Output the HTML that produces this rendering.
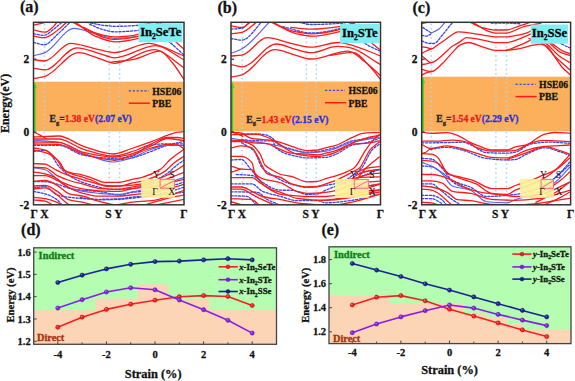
<!DOCTYPE html><html><head><meta charset="utf-8"><style>html,body{margin:0;padding:0;background:#fff;width:575px;height:381px;overflow:hidden}svg{display:block}</style></head><body>
<svg width="575" height="381" viewBox="0 0 575 381">
<rect width="575" height="381" fill="#fff"/>
<g font-family="Liberation Serif" font-weight="bold" font-size="16" fill="#111" stroke="#111" stroke-width="0.28">
<text x="20" y="11.8">(a)</text>
<text x="217.5" y="12.6">(b)</text>
<text x="412.5" y="13.3">(c)</text>
<text x="21.1" y="234.7">(d)</text>
<text x="321.4" y="235.1">(e)</text>
</g>
<text transform="translate(9.3 103.4) rotate(-90)" font-family="Liberation Serif" font-weight="bold" font-size="12" fill="#111" text-anchor="middle" stroke="#111" stroke-width="0.28">Energy(eV)</text>
<clipPath id="clip1"><rect x="33.5" y="22.3" width="150.5" height="182.5"/></clipPath>
<rect x="33.5" y="81.7" width="150.5" height="49.5" fill="#fcb05b"/>
<line x1="44.5" y1="23.8" x2="44.5" y2="204.8" stroke="#a8d2f4" stroke-width="1.5" stroke-dasharray="1.5 3"/>
<line x1="109.3" y1="23.8" x2="109.3" y2="204.8" stroke="#a8d2f4" stroke-width="1.5" stroke-dasharray="1.5 3"/>
<line x1="119.6" y1="23.8" x2="119.6" y2="204.8" stroke="#a8d2f4" stroke-width="1.5" stroke-dasharray="1.5 3"/>
<g clip-path="url(#clip1)"><g transform="translate(33.50 22.30) scale(1.0033 1)">
<g fill="none" stroke-linecap="round">
<path d="M0.0 20.1C3.5 20.9 7.0 22.5 10.5 22.5C15.0 22.5 19.5 15.9 24.0 12.0C28.5 8.1 32.9 3.3 37.4 -1.0" stroke="#3b45e6" stroke-width="1.3" stroke-dasharray="2.2 1.6"/>
<path d="M0.0 11.4C3.5 11.9 7.0 13.0 10.5 13.0C13.7 13.0 16.8 9.3 20.0 7.0C23.2 4.7 26.3 1.7 29.5 -1.0" stroke="#3b45e6" stroke-width="1.3" stroke-dasharray="2.2 1.6"/>
<path d="M53.0 0.0C58.7 1.0 64.3 2.3 70.0 3.0C73.7 3.4 77.3 4.0 81.0 4.0C89.0 4.0 97.0 3.6 105.0 3.0C110.0 2.6 115.0 1.0 120.0 0.0" stroke="#3b45e6" stroke-width="1.3" stroke-dasharray="2.2 1.6"/>
<path d="M56.0 2.0C60.7 3.8 65.3 6.4 70.0 7.5C73.7 8.4 77.3 9.5 81.0 9.5C89.0 9.5 97.0 8.9 105.0 8.0C111.7 7.3 118.3 3.3 125.0 1.0" stroke="#3b45e6" stroke-width="1.3" stroke-dasharray="2.2 1.6"/>
<path d="M118.0 8.0C124.0 12.1 130.0 15.5 136.0 20.2C140.7 23.8 145.3 28.6 150.0 32.8" stroke="#3b45e6" stroke-width="1.3" stroke-dasharray="2.2 1.6"/>
<path d="M0.0 123.0C8.3 123.0 16.7 123.0 25.0 123.0C33.3 123.0 41.7 131.6 50.0 133.0C60.0 134.6 70.0 136.0 80.0 136.0C85.5 136.0 91.0 135.4 96.5 134.6C103.5 133.6 110.5 123.3 117.5 122.5C122.8 121.9 128.0 121.5 133.3 121.5C138.9 121.5 144.4 121.5 150.0 121.5" stroke="#3b45e6" stroke-width="1.3" stroke-dasharray="2.2 1.6"/>
<path d="M80.0 138.0C85.5 137.3 91.0 137.0 96.5 136.0C103.5 134.8 110.5 131.5 117.5 129.0C122.8 127.1 128.0 124.6 133.3 123.0C138.9 121.4 144.4 120.3 150.0 119.0" stroke="#3b45e6" stroke-width="1.3" stroke-dasharray="2.2 1.6"/>
<path d="M0.0 129.0C4.0 128.7 8.0 128.0 12.0 128.0C17.0 128.0 22.0 141.3 27.0 146.0C31.3 150.0 35.7 153.7 40.0 156.0C45.0 158.7 50.0 160.6 55.0 162.0C63.3 164.3 71.7 167.0 80.0 167.0C86.7 167.0 93.3 166.6 100.0 166.0C105.0 165.5 110.0 163.0 115.0 161.0C120.7 158.7 126.3 155.7 132.0 152.0C136.0 149.4 140.0 144.9 144.0 142.0C146.0 140.5 148.0 139.3 150.0 138.0" stroke="#3b45e6" stroke-width="1.3" stroke-dasharray="2.2 1.6"/>
<path d="M0.0 159.4C3.9 159.4 7.7 159.4 11.6 159.4C15.6 159.4 19.7 160.9 23.7 161.9C27.7 162.9 31.7 165.2 35.7 166.0C40.3 166.9 44.9 167.6 49.5 168.0C54.5 168.5 59.6 168.6 64.6 169.1C71.7 169.8 78.7 172.7 85.8 172.7C89.4 172.7 92.9 170.8 96.5 170.3C104.3 169.2 112.2 169.1 120.0 168.0C130.0 166.6 140.0 162.7 150.0 160.0" stroke="#3b45e6" stroke-width="1.3" stroke-dasharray="2.2 1.6"/>
<path d="M0.0 165.5C3.9 165.1 7.7 164.3 11.6 164.3C15.6 164.3 19.7 171.5 23.7 172.7C27.7 173.9 31.7 174.6 35.7 175.0C45.3 176.0 55.0 177.0 64.6 177.0C71.7 177.0 78.7 176.8 85.8 176.5C89.4 176.3 92.9 175.4 96.5 175.0C104.3 174.1 112.2 174.0 120.0 173.0C130.0 171.7 140.0 167.7 150.0 165.0" stroke="#3b45e6" stroke-width="1.3" stroke-dasharray="2.2 1.6"/>
<path d="M0.0 169.1C3.9 169.9 7.7 170.4 11.6 171.5C15.6 172.7 19.7 174.7 23.7 177.6C25.7 179.0 27.7 181.9 29.7 184.0" stroke="#3b45e6" stroke-width="1.3" stroke-dasharray="2.2 1.6"/>
<path d="M46.5 175.0C52.5 175.8 58.6 177.5 64.6 177.5C71.7 177.5 78.7 177.3 85.8 177.0C89.4 176.9 92.9 176.4 96.5 176.0C114.3 174.2 132.2 172.0 150.0 170.0" stroke="#3b45e6" stroke-width="1.3" stroke-dasharray="2.2 1.6"/>
<path d="M0.0 33.5C3.8 32.4 7.7 31.8 11.5 30.3C21.2 26.5 30.8 6.0 40.5 6.0C47.0 6.0 53.5 9.4 60.0 11.0C67.0 12.7 74.0 16.0 81.0 16.0C89.0 16.0 97.0 15.2 105.0 14.0C113.3 12.8 121.7 4.0 130.0 -1.0" stroke="#5a63e8" stroke-width="1.15"/>
<path d="M0.0 118.0C8.3 118.7 16.7 118.9 25.0 120.0C33.3 121.1 41.7 128.1 50.0 131.0C60.0 134.5 70.0 139.7 80.0 139.7C85.5 139.7 91.0 137.6 96.5 136.0C103.5 134.0 110.5 129.2 117.5 127.0C122.8 125.3 128.0 123.0 133.3 123.0C138.9 123.0 144.4 123.0 150.0 123.0" stroke="#5a63e8" stroke-width="1.15"/>
<path d="M0.0 145.5C3.9 146.1 7.7 146.4 11.6 147.4C15.6 148.5 19.7 154.0 23.7 157.0C27.7 160.0 31.7 164.0 35.7 165.5C40.3 167.3 44.9 168.3 49.5 169.1C54.5 170.0 59.6 170.6 64.6 171.0C71.7 171.5 78.7 172.0 85.8 172.0C89.4 172.0 92.9 170.7 96.5 170.0C104.3 168.5 112.2 167.0 120.0 165.0C130.0 162.4 140.0 158.3 150.0 155.0" stroke="#5a63e8" stroke-width="1.15"/>
<path d="M0.0 37.4C3.7 37.8 7.3 38.7 11.0 38.7C19.7 38.7 28.3 21.0 37.0 21.0C44.7 21.0 52.3 24.4 60.0 26.0C67.0 27.5 74.0 30.3 81.0 30.3C92.3 30.3 103.7 21.0 115.0 21.0C126.7 21.0 138.3 29.4 150.0 33.6" stroke="#fc1a1a" stroke-width="1.3"/>
<path d="M0.0 46.0C3.8 46.5 7.7 47.6 11.5 47.6C22.0 47.6 32.5 25.6 43.0 25.6C50.3 25.6 57.7 29.1 65.0 31.0C70.3 32.4 75.7 35.5 81.0 35.5C94.6 35.5 108.1 23.3 121.7 23.3C131.1 23.3 140.6 32.8 150.0 37.5" stroke="#fc1a1a" stroke-width="1.3"/>
<path d="M0.0 56.3C3.8 55.5 7.7 55.1 11.5 54.0C22.7 50.8 33.8 30.3 45.0 30.3C51.7 30.3 58.3 34.0 65.0 36.0C70.3 37.6 75.7 41.0 81.0 41.0C94.0 41.0 107.0 27.3 120.0 27.3C130.0 27.3 140.0 39.4 150.0 45.4" stroke="#fc1a1a" stroke-width="1.3"/>
<path d="M76.0 40.0C84.0 39.0 92.0 38.4 100.0 37.0C108.7 35.5 117.3 28.8 126.0 28.8C130.0 28.8 134.0 35.5 138.0 40.0C142.0 44.5 146.0 51.3 150.0 57.0" stroke="#fc1a1a" stroke-width="1.3"/>
<path d="M0.0 13.8C3.5 14.3 7.0 15.4 10.5 15.4C15.0 15.4 19.5 11.1 24.0 8.0C27.3 5.7 30.7 2.0 34.0 -1.0" stroke="#fc1a1a" stroke-width="1.3"/>
<path d="M0.0 7.5C3.8 8.3 7.7 9.9 11.5 9.9C13.7 9.9 15.8 7.7 18.0 6.0C20.3 4.2 22.7 0.7 25.0 -2.0" stroke="#fc1a1a" stroke-width="1.3"/>
<path d="M0.0 2.8C2.7 2.2 5.3 1.7 8.0 1.0C10.3 0.4 12.7 -0.3 15.0 -1.0" stroke="#fc1a1a" stroke-width="1.3"/>
<path d="M37.4 -1.0C44.9 2.7 52.5 7.8 60.0 10.0C67.0 12.1 74.0 14.5 81.0 14.5C87.3 14.5 93.7 13.8 100.0 13.0C108.3 11.9 116.7 5.7 125.0 2.0" stroke="#fc1a1a" stroke-width="1.3"/>
<path d="M42.0 0.0C48.7 4.7 55.3 11.3 62.0 14.0C68.3 16.6 74.7 19.5 81.0 19.5C89.0 19.5 97.0 17.9 105.0 16.0C111.7 14.4 118.3 8.7 125.0 5.0" stroke="#fc1a1a" stroke-width="1.3"/>
<path d="M50.0 5.0C56.7 8.3 63.3 13.3 70.0 15.0C73.7 15.9 77.3 17.0 81.0 17.0C89.0 17.0 97.0 15.6 105.0 14.0C113.3 12.4 121.7 6.0 130.0 2.0" stroke="#fc1a1a" stroke-width="1.3"/>
<path d="M128.0 8.0C132.0 11.3 136.0 14.5 140.0 18.0C143.3 20.9 146.7 24.0 150.0 27.0" stroke="#fc1a1a" stroke-width="1.3"/>
<path d="M0.0 109.7C2.0 110.6 4.0 111.5 6.0 112.5C8.3 113.7 10.7 115.2 13.0 116.5" stroke="#fc1a1a" stroke-width="1.3"/>
<path d="M0.0 114.7C8.3 114.4 16.7 113.7 25.0 113.7C33.3 113.7 41.7 121.3 50.0 124.0C60.0 127.2 70.0 131.7 80.0 131.7C85.5 131.7 91.0 128.5 96.5 126.7C103.5 124.4 110.5 122.0 117.5 119.4C122.8 117.4 128.0 114.9 133.3 113.1C136.8 111.9 140.3 110.3 143.8 109.9C145.9 109.6 147.9 109.6 150.0 109.4" stroke="#fc1a1a" stroke-width="1.3"/>
<path d="M0.0 116.7C8.3 116.7 16.7 116.7 25.0 116.7C33.3 116.7 41.7 124.6 50.0 127.0C60.0 129.9 70.0 133.7 80.0 133.7C85.5 133.7 91.0 131.5 96.5 129.9C103.5 127.9 110.5 124.3 117.5 121.5C122.8 119.4 128.0 115.2 133.3 115.2C136.8 115.2 140.3 115.2 143.8 115.2C145.9 115.2 147.9 115.9 150.0 116.2" stroke="#fc1a1a" stroke-width="1.3"/>
<path d="M0.0 119.7C8.3 119.8 16.7 119.8 25.0 120.0C33.3 120.2 41.7 128.1 50.0 130.0C60.0 132.3 70.0 134.7 80.0 134.7C85.5 134.7 91.0 133.3 96.5 132.0C103.5 130.4 110.5 126.6 117.5 123.6C122.8 121.3 128.0 116.2 133.3 116.2C138.9 116.2 144.4 117.6 150.0 118.3" stroke="#fc1a1a" stroke-width="1.3"/>
<path d="M0.0 121.7C8.3 121.8 16.7 121.8 25.0 122.0C33.3 122.2 41.7 129.8 50.0 132.0C60.0 134.6 70.0 137.7 80.0 137.7C85.5 137.7 91.0 135.1 96.5 133.5C103.5 131.4 110.5 127.7 117.5 125.7C122.8 124.2 128.0 122.0 133.3 122.0C136.8 122.0 140.3 122.2 143.8 122.5C145.9 122.7 147.9 125.3 150.0 126.7" stroke="#fc1a1a" stroke-width="1.3"/>
<path d="M0.0 125.7C4.0 126.5 8.0 126.8 12.0 128.0C15.9 129.2 19.8 133.3 23.7 137.7C25.7 140.0 27.7 146.1 29.7 147.4C32.9 149.5 36.2 150.4 39.4 151.0C41.8 151.5 44.1 151.6 46.5 152.0C50.5 152.8 54.6 154.5 58.6 155.8C62.6 157.1 66.7 160.1 70.7 160.1C75.7 160.1 80.8 160.1 85.8 160.1C89.4 160.1 92.9 158.4 96.5 157.6C100.5 156.7 104.4 156.1 108.4 155.0C114.4 153.3 120.3 150.9 126.3 147.1C129.8 144.9 133.3 139.7 136.8 136.7C141.2 133.0 145.6 130.2 150.0 127.0" stroke="#fc1a1a" stroke-width="1.3"/>
<path d="M0.0 127.7C4.7 128.8 9.3 129.3 14.0 131.0C18.0 132.5 22.0 135.8 26.0 140.0C28.0 142.1 30.0 147.7 32.0 149.0C35.3 151.2 38.7 152.1 42.0 153.0C43.5 153.4 45.0 153.6 46.5 154.0C50.5 155.1 54.6 156.7 58.6 158.2C62.6 159.7 66.7 162.8 70.7 163.1C75.7 163.5 80.8 163.7 85.8 163.7C89.4 163.7 92.9 162.0 96.5 161.2C101.5 160.1 106.4 159.4 111.4 158.0C117.4 156.3 123.3 153.7 129.3 150.1C133.3 147.7 137.3 142.7 141.3 139.7C144.2 137.6 147.1 135.9 150.0 134.0" stroke="#fc1a1a" stroke-width="1.3"/>
<path d="M0.0 141.3C3.9 141.5 7.7 141.5 11.6 141.9C14.4 142.2 17.2 144.8 20.0 146.2C23.2 147.8 26.5 149.7 29.7 151.0C35.3 153.2 40.9 154.8 46.5 156.5C50.5 157.7 54.6 158.9 58.6 160.0C64.1 161.5 69.5 164.0 75.0 164.0C82.2 164.0 89.3 163.5 96.5 163.0C102.7 162.5 108.8 161.4 115.0 160.0C121.7 158.5 128.3 155.2 135.0 152.0C140.0 149.6 145.0 146.0 150.0 143.0" stroke="#fc1a1a" stroke-width="1.3"/>
<path d="M0.0 145.0C3.9 145.2 7.7 145.2 11.6 145.5C15.6 145.8 19.7 151.4 23.7 153.4C27.7 155.4 31.7 156.9 35.7 158.2C40.3 159.7 44.9 160.7 49.5 161.9C54.5 163.3 59.6 165.6 64.6 166.0C71.7 166.6 78.7 167.0 85.8 167.0C89.4 167.0 92.9 165.6 96.5 165.0C104.3 163.6 112.2 162.8 120.0 161.0C130.0 158.7 140.0 153.7 150.0 150.0" stroke="#fc1a1a" stroke-width="1.3"/>
<path d="M0.0 149.8C3.1 150.2 6.1 150.4 9.2 151.0C12.0 151.5 14.8 152.3 17.6 153.4C21.6 154.9 25.7 158.9 29.7 160.6C35.3 163.0 40.9 165.0 46.5 166.1C52.5 167.2 58.6 168.2 64.6 168.5C71.7 168.8 78.7 169.1 85.8 169.1C89.4 169.1 92.9 167.3 96.5 166.7C104.3 165.5 112.2 165.2 120.0 164.0C130.0 162.5 140.0 159.3 150.0 157.0" stroke="#fc1a1a" stroke-width="1.3"/>
<path d="M0.0 153.4C3.9 153.4 7.7 153.4 11.6 153.4C15.6 153.4 19.7 156.3 23.7 158.2C27.7 160.1 31.7 163.6 35.7 165.5C40.3 167.7 44.9 169.8 49.5 171.0C54.5 172.3 59.6 173.9 64.6 173.9C71.7 173.9 78.7 173.9 85.8 173.9C89.4 173.9 92.9 173.1 96.5 172.7C104.3 171.8 112.2 171.2 120.0 170.0C130.0 168.4 140.0 164.7 150.0 162.0" stroke="#fc1a1a" stroke-width="1.3"/>
<path d="M0.0 158.8C3.9 158.6 7.7 158.2 11.6 158.2C15.6 158.2 19.7 161.0 23.7 163.1C27.7 165.2 31.7 170.4 35.7 171.5C40.3 172.8 44.9 172.9 49.5 173.9C54.5 175.0 59.6 177.5 64.6 178.8C70.6 180.3 76.7 182.4 82.7 182.4C87.3 182.4 91.9 180.5 96.5 180.0C104.3 179.1 112.2 179.0 120.0 178.0C130.0 176.7 140.0 171.3 150.0 168.0" stroke="#fc1a1a" stroke-width="1.3"/>
<path d="M0.0 163.7C3.9 163.5 7.7 163.1 11.6 163.1C15.6 163.1 19.7 166.7 23.7 169.1C27.7 171.4 31.7 176.5 35.7 177.6C40.3 178.9 44.9 179.0 49.5 180.0C54.5 181.1 59.6 182.7 64.6 184.0" stroke="#fc1a1a" stroke-width="1.3"/>
<path d="M0.0 166.7C3.9 166.3 7.7 165.5 11.6 165.5C15.6 165.5 19.7 169.9 23.7 172.7C27.7 175.4 31.7 180.9 35.7 182.4C37.8 183.2 39.9 183.5 42.0 184.0" stroke="#fc1a1a" stroke-width="1.3"/>
<path d="M0.0 175.1C3.9 175.5 7.7 175.8 11.6 176.4C15.6 177.1 19.7 178.3 23.7 180.0C25.7 180.9 27.7 182.7 29.7 184.0" stroke="#fc1a1a" stroke-width="1.3"/>
<path d="M0.0 177.6C3.9 178.0 7.7 178.1 11.6 178.8C14.8 179.4 18.0 182.3 21.2 184.0" stroke="#fc1a1a" stroke-width="1.3"/>
<path d="M110.0 183.0C116.7 181.0 123.3 178.7 130.0 177.0C136.7 175.3 143.3 174.1 150.0 172.6" stroke="#fc1a1a" stroke-width="1.3"/>
<path d="M115.0 184.0C121.7 182.7 128.3 181.3 135.0 180.0C140.0 179.0 145.0 178.0 150.0 177.0" stroke="#fc1a1a" stroke-width="1.3"/>
</g>
</g></g>
<line x1="34.9" y1="86.7" x2="34.9" y2="131" stroke="#1ee61e" stroke-width="1.5"/>
<path d="M33.2 88.2L34.9 82.0L36.8 88.2Z" fill="#1ee61e"/>
<rect x="141.2" y="178.8" width="33.8" height="19.0" fill="#fff09a" opacity="0.92"/>
<path d="M160.1 179.3H174.6V188.2H160.1Z M160.6 187.9L174.2 180.7" fill="none" stroke="#f2607e" stroke-width="0.9"/>
<g font-family="Liberation Serif" font-size="9.6" fill="#111">
<text x="156.5" y="177.8" text-anchor="middle">Y</text>
<text x="172.0" y="178.1" text-anchor="middle">S</text>
<text x="155.1" y="195.1" text-anchor="middle">Γ</text>
<text x="171.6" y="195.3" text-anchor="middle">X</text>
</g>
<rect x="138.5" y="23.4" width="43.9" height="18.8" fill="#7ef0f4"/>
<text x="160.7" y="35.6" font-family="Liberation Serif" font-weight="bold" font-size="12.6" fill="#000" text-anchor="middle" stroke="#000" stroke-width="0.28">In<tspan font-size="7.5" dy="3">2</tspan><tspan dy="-3">SeTe</tspan></text>
<line x1="128.8" y1="90.9" x2="148.8" y2="90.9" stroke="#3b45e6" stroke-width="1.3" stroke-dasharray="2.2 1.7"/>
<line x1="128.8" y1="103.2" x2="149.8" y2="103.2" stroke="#fc1a1a" stroke-width="1.5"/>
<g font-family="Liberation Serif" font-weight="bold" font-size="9.7" fill="#111" stroke="#111" stroke-width="0.28">
<text x="152.3" y="94.7">HSE06</text>
<text x="152.3" y="107.0">PBE</text>
</g>
<text x="49.5" y="122.2" font-family="Liberation Serif" font-weight="bold" font-size="9.6" fill="#222" stroke="#222" stroke-width="0.28">E<tspan font-size="6.5" dy="2.5">g</tspan><tspan dy="-2.5">=</tspan><tspan fill="#f01818" stroke="#f01818">1.38 eV</tspan><tspan fill="#1f2ee0" stroke="#1f2ee0">(2.07 eV)</tspan></text>
<rect x="33.5" y="22.3" width="150.5" height="182.5" fill="none" stroke="#333" stroke-width="1.5"/>
<line x1="33.5" y1="59.2" x2="36.5" y2="59.2" stroke="#333" stroke-width="1.2"/>
<line x1="33.5" y1="132.0" x2="36.5" y2="132.0" stroke="#333" stroke-width="1.2"/>
<g font-family="Liberation Serif" font-weight="bold" font-size="11.5" fill="#111" text-anchor="end" stroke="#111" stroke-width="0.28">
<text x="29.2" y="62.5">2</text>
<text x="29.2" y="135.5">0</text>
<text x="29.2" y="208.7">-2</text>
</g>
<g font-family="Liberation Serif" font-weight="bold" font-size="11.5" fill="#111" stroke="#111" stroke-width="0.28">
<text x="30.5" y="218.2">Γ X</text>
<text x="105.3" y="218.2">S Y</text>
<text x="184.0" y="218.2" text-anchor="middle">Γ</text>
</g>
<clipPath id="clip2"><rect x="231.0" y="22.3" width="149.5" height="182.5"/></clipPath>
<rect x="231.0" y="81.5" width="149.5" height="49.7" fill="#fcb05b"/>
<line x1="242.3" y1="23.8" x2="242.3" y2="204.8" stroke="#a8d2f4" stroke-width="1.5" stroke-dasharray="1.5 3"/>
<line x1="306.4" y1="23.8" x2="306.4" y2="204.8" stroke="#a8d2f4" stroke-width="1.5" stroke-dasharray="1.5 3"/>
<line x1="316.3" y1="23.8" x2="316.3" y2="204.8" stroke="#a8d2f4" stroke-width="1.5" stroke-dasharray="1.5 3"/>
<g clip-path="url(#clip2)"><g transform="translate(231.00 22.30) scale(0.9967 1)">
<g fill="none" stroke-linecap="round">
<path d="M0.0 16.2C3.7 16.7 7.3 17.8 11.0 17.8C17.8 17.8 24.7 5.3 31.5 -1.0" stroke="#3b45e6" stroke-width="1.3" stroke-dasharray="2.2 1.6"/>
<path d="M0.0 6.8C3.7 6.5 7.3 6.5 11.0 6.0C13.7 5.6 16.3 1.3 19.0 -1.0" stroke="#3b45e6" stroke-width="1.3" stroke-dasharray="2.2 1.6"/>
<path d="M64.6 -1.0C69.9 0.1 75.2 2.2 80.5 2.2C90.3 2.2 100.2 1.7 110.0 1.0C113.3 0.7 116.7 -0.3 120.0 -1.0" stroke="#3b45e6" stroke-width="1.3" stroke-dasharray="2.2 1.6"/>
<path d="M52.0 4.4C61.5 6.5 71.0 10.7 80.5 10.7C90.3 10.7 100.2 8.4 110.0 6.0C115.0 4.8 120.0 2.0 125.0 0.0" stroke="#3b45e6" stroke-width="1.3" stroke-dasharray="2.2 1.6"/>
<path d="M128.0 17.0C131.3 19.1 134.7 21.5 138.0 23.3C142.0 25.5 146.0 27.1 150.0 29.0" stroke="#3b45e6" stroke-width="1.3" stroke-dasharray="2.2 1.6"/>
<path d="M8.4 112.0C12.6 111.8 16.8 111.5 21.0 111.5C24.5 111.5 28.0 111.7 31.5 112.0C35.0 112.3 38.5 113.8 42.0 116.2C43.0 116.9 44.0 119.7 45.0 120.4C50.2 124.1 55.5 125.3 60.7 126.7C66.0 128.1 71.2 129.9 76.5 129.9C80.0 129.9 83.5 129.6 87.0 129.3C89.7 129.1 92.3 128.3 95.0 127.7C98.4 126.9 101.8 126.1 105.2 125.1C110.6 123.5 115.9 119.7 121.3 118.6C124.9 117.8 128.5 117.6 132.1 117.0C137.7 116.0 143.2 114.5 148.8 113.2" stroke="#3b45e6" stroke-width="1.3" stroke-dasharray="2.2 1.6"/>
<path d="M10.5 117.2C14.0 117.6 17.5 118.2 21.0 118.3C28.0 118.6 35.0 118.4 42.0 118.8C43.0 118.9 44.0 124.8 45.0 125.6C52.0 131.4 59.0 132.5 66.0 134.0C69.5 134.7 73.0 135.6 76.5 135.6C82.7 135.6 88.8 135.4 95.0 135.1C98.4 134.9 101.8 133.3 105.2 132.0C110.6 129.9 115.9 124.5 121.3 123.0C126.7 121.5 132.1 121.3 137.5 120.0C141.3 119.1 145.0 117.3 148.8 116.0" stroke="#3b45e6" stroke-width="1.3" stroke-dasharray="2.2 1.6"/>
<path d="M10.5 120.4C14.7 123.2 18.9 124.4 23.1 128.8C25.9 131.7 28.7 142.7 31.5 145.7C34.3 148.8 37.2 150.3 40.0 152.0C46.9 156.2 53.8 160.2 60.7 162.0C66.0 163.4 71.2 165.0 76.5 165.0C82.7 165.0 88.8 163.9 95.0 163.0C100.0 162.3 105.0 161.5 110.0 160.0C115.3 158.4 120.7 154.0 126.0 150.0C127.7 148.8 129.3 147.5 131.0 145.7C134.6 141.7 138.2 131.0 141.8 127.3C144.1 124.9 146.5 123.7 148.8 121.9" stroke="#3b45e6" stroke-width="1.3" stroke-dasharray="2.2 1.6"/>
<path d="M0.0 137.7C3.5 137.5 7.0 137.2 10.5 137.2C13.3 137.2 16.1 142.6 18.9 145.7C22.4 149.5 25.9 155.9 29.4 158.4C36.3 163.2 43.1 167.8 50.0 167.9C53.6 168.0 57.1 167.9 60.7 168.0C66.0 168.1 71.2 172.1 76.5 172.1C80.0 172.1 83.5 171.9 87.0 171.6C89.7 171.4 92.3 169.0 95.0 167.9C103.8 164.2 112.5 161.4 121.3 158.0C130.5 154.4 139.6 150.7 148.8 147.0" stroke="#3b45e6" stroke-width="1.3" stroke-dasharray="2.2 1.6"/>
<path d="M5.2 152.2C10.5 152.5 15.7 152.5 21.0 153.2C23.8 153.5 26.6 156.4 29.4 158.0" stroke="#3b45e6" stroke-width="1.3" stroke-dasharray="2.2 1.6"/>
<path d="M0.0 161.6C7.0 161.6 14.0 161.6 21.0 161.6C24.5 161.6 28.0 167.5 31.5 169.0C37.7 171.6 43.8 172.5 50.0 174.2C55.3 175.6 60.7 178.4 66.0 178.4C73.0 178.4 80.0 178.4 87.0 178.4C89.7 178.4 92.3 180.5 95.0 180.5C103.8 180.5 112.5 179.2 121.3 178.0C130.5 176.8 139.6 174.0 148.8 172.0" stroke="#3b45e6" stroke-width="1.3" stroke-dasharray="2.2 1.6"/>
<path d="M0.0 169.5C8.7 169.7 17.5 169.6 26.2 170.0C29.7 170.2 33.2 175.5 36.7 177.4C41.1 179.8 45.6 181.1 50.0 183.0" stroke="#3b45e6" stroke-width="1.3" stroke-dasharray="2.2 1.6"/>
<path d="M0.0 173.5C5.2 173.7 10.5 173.7 15.7 174.0C19.2 174.2 22.7 180.3 26.2 183.5" stroke="#3b45e6" stroke-width="1.3" stroke-dasharray="2.2 1.6"/>
<path d="M125.0 152.0C129.0 151.0 133.0 149.7 137.0 149.0C140.9 148.3 144.9 148.0 148.8 147.5" stroke="#3b45e6" stroke-width="1.3" stroke-dasharray="2.2 1.6"/>
<path d="M122.0 166.0C126.7 165.2 131.3 164.1 136.0 163.5C140.3 162.9 144.5 162.6 148.8 162.1" stroke="#3b45e6" stroke-width="1.3" stroke-dasharray="2.2 1.6"/>
<path d="M0.0 31.2C3.7 29.6 7.3 28.6 11.0 26.5C20.5 21.2 29.9 8.2 39.4 -1.0" stroke="#5a63e8" stroke-width="1.15"/>
<path d="M0.0 116.0C6.7 117.0 13.3 118.0 20.0 119.0C28.3 120.3 36.7 121.4 45.0 123.0C55.5 125.0 66.0 130.5 76.5 130.5C82.7 130.5 88.8 129.8 95.0 129.0C103.8 127.9 112.5 122.1 121.3 120.0C130.5 117.8 139.6 116.7 148.8 115.0" stroke="#5a63e8" stroke-width="1.15"/>
<path d="M0.0 33.7C3.7 33.4 7.3 33.3 11.0 32.8C19.3 31.7 27.7 15.4 36.0 15.4C44.0 15.4 52.0 19.3 60.0 21.0C66.8 22.4 73.7 24.9 80.5 24.9C89.7 24.9 98.8 20.2 108.0 20.2C111.3 20.2 114.7 21.2 118.0 22.0C128.7 24.4 139.3 29.7 150.0 33.6" stroke="#fc1a1a" stroke-width="1.3"/>
<path d="M0.0 42.2C3.7 43.0 7.3 44.6 11.0 44.6C22.6 44.6 34.1 21.7 45.7 21.7C52.1 21.7 58.6 25.4 65.0 27.0C70.2 28.3 75.3 30.4 80.5 30.4C89.2 30.4 97.8 24.1 106.5 24.1C110.3 24.1 114.2 24.5 118.0 25.0C128.7 26.3 139.3 36.5 150.0 42.2" stroke="#fc1a1a" stroke-width="1.3"/>
<path d="M0.0 54.8C3.7 54.0 7.3 53.6 11.0 52.5C22.0 49.2 33.0 27.3 44.0 27.3C51.0 27.3 58.0 31.2 65.0 33.0C70.2 34.3 75.3 36.7 80.5 36.7C92.8 36.7 105.2 28.8 117.5 28.8C123.3 28.8 129.2 35.7 135.0 40.0C140.0 43.7 145.0 48.8 150.0 53.2" stroke="#fc1a1a" stroke-width="1.3"/>
<path d="M100.0 33.0C107.3 32.0 114.7 30.0 122.0 30.0C128.0 30.0 134.0 38.9 140.0 45.0C143.3 48.4 146.7 53.1 150.0 57.2" stroke="#fc1a1a" stroke-width="1.3"/>
<path d="M0.0 11.5C3.7 11.0 7.3 10.8 11.0 10.0C16.3 8.8 21.5 2.7 26.8 -1.0" stroke="#fc1a1a" stroke-width="1.3"/>
<path d="M0.0 3.6C3.7 4.1 7.3 5.2 11.0 5.2C14.2 5.2 17.3 1.1 20.5 -1.0" stroke="#fc1a1a" stroke-width="1.3"/>
<path d="M39.4 -1.0C47.3 2.4 55.1 7.5 63.0 9.1C68.8 10.3 74.7 11.5 80.5 11.5C90.3 11.5 100.2 9.4 110.0 7.0C115.0 5.8 120.0 2.3 125.0 0.0" stroke="#fc1a1a" stroke-width="1.3"/>
<path d="M41.0 0.0C49.3 3.8 57.7 9.6 66.0 11.5C70.8 12.6 75.7 13.9 80.5 13.9C90.3 13.9 100.2 11.4 110.0 9.0C116.0 7.6 122.0 4.3 128.0 2.0" stroke="#fc1a1a" stroke-width="1.3"/>
<path d="M60.0 5.0C66.8 5.6 73.7 6.8 80.5 6.8C90.3 6.8 100.2 5.5 110.0 4.0C115.0 3.3 120.0 1.3 125.0 0.0" stroke="#fc1a1a" stroke-width="1.3"/>
<path d="M125.0 10.0C130.0 13.3 135.0 16.3 140.0 20.0C143.3 22.4 146.7 25.3 150.0 28.0" stroke="#fc1a1a" stroke-width="1.3"/>
<path d="M0.0 109.9C2.8 110.1 5.6 110.1 8.4 110.4C12.6 110.8 16.8 115.6 21.0 116.2C22.7 116.5 24.5 116.5 26.2 116.7C32.5 117.3 38.7 117.7 45.0 118.8C50.2 119.7 55.5 122.5 60.7 124.1C66.0 125.7 71.2 128.3 76.5 128.3C80.0 128.3 83.5 128.0 87.0 127.7C89.7 127.4 92.3 126.3 95.0 125.6C98.4 124.7 101.8 124.1 105.2 123.0C110.6 121.3 115.9 117.7 121.3 115.4C124.9 113.9 128.5 111.5 132.1 111.1C137.7 110.4 143.2 110.4 148.8 110.0" stroke="#fc1a1a" stroke-width="1.3"/>
<path d="M0.0 112.5C3.5 112.3 7.0 112.0 10.5 112.0C15.7 112.0 21.0 112.0 26.2 112.0C29.7 112.0 33.2 113.9 36.7 115.2C39.5 116.3 42.2 117.7 45.0 119.3C48.5 121.3 52.0 124.7 55.5 126.7C59.0 128.7 62.5 131.1 66.0 131.9C69.5 132.7 73.0 133.2 76.5 133.5C80.0 133.8 83.5 134.0 87.0 134.0C89.7 134.0 92.3 133.5 95.0 133.0C98.4 132.4 101.8 131.3 105.2 130.0C110.6 128.0 115.9 123.4 121.3 121.0C125.9 119.0 130.4 117.2 135.0 116.0C139.6 114.7 144.2 114.0 148.8 113.0" stroke="#fc1a1a" stroke-width="1.3"/>
<path d="M0.0 117.8C3.5 118.0 7.0 118.0 10.5 118.3C14.0 118.6 17.5 120.0 21.0 120.4C26.2 121.0 31.5 120.8 36.7 121.5C39.5 121.9 42.2 124.0 45.0 125.1C50.2 127.2 55.5 130.3 60.7 130.9C66.0 131.5 71.2 131.6 76.5 131.9C80.0 132.1 83.5 132.5 87.0 132.5C89.7 132.5 92.3 131.5 95.0 130.9C98.4 130.1 101.8 129.3 105.2 128.3C110.6 126.7 115.9 122.5 121.3 121.9C126.7 121.3 132.1 121.4 137.5 120.8C141.3 120.4 145.0 119.3 148.8 118.6" stroke="#fc1a1a" stroke-width="1.3"/>
<path d="M0.0 119.3C3.5 119.3 7.0 119.3 10.5 119.3C14.0 119.3 17.5 120.8 21.0 122.5C23.8 123.9 26.6 127.6 29.4 132.0C30.9 134.4 32.5 141.0 34.0 142.7C36.7 145.6 39.3 146.4 42.0 148.0C44.7 149.6 47.3 151.4 50.0 152.2C53.6 153.2 57.1 153.4 60.7 154.2C66.0 155.4 71.2 159.5 76.5 159.5C80.0 159.5 83.5 159.3 87.0 159.0C89.7 158.8 92.3 157.1 95.0 156.3C98.4 155.3 101.8 154.6 105.2 153.5C108.5 152.5 111.7 151.4 115.0 150.0C117.8 148.8 120.7 147.8 123.5 145.7C127.5 142.8 131.4 132.8 135.4 127.3C137.9 123.8 140.4 120.3 142.9 117.6C144.9 115.5 146.8 114.0 148.8 112.2" stroke="#fc1a1a" stroke-width="1.3"/>
<path d="M0.0 125.6C3.5 124.9 7.0 123.5 10.5 123.5C14.0 123.5 17.5 124.3 21.0 125.6C23.1 126.4 25.2 131.4 27.3 135.1C28.5 137.3 29.8 140.3 31.0 142.7C32.6 145.7 34.1 150.2 35.7 151.1C40.5 153.8 45.2 153.4 50.0 155.3C53.6 156.7 57.1 160.5 60.7 161.6C66.0 163.2 71.2 164.7 76.5 164.7C80.0 164.7 83.5 164.5 87.0 164.2C89.7 164.0 92.3 162.5 95.0 161.6C98.4 160.5 101.8 159.4 105.2 158.0C110.6 155.8 115.9 152.9 121.3 150.0C123.8 148.6 126.4 147.8 128.9 145.7C132.5 142.7 136.1 131.3 139.7 127.3C142.7 123.9 145.8 122.2 148.8 119.7" stroke="#fc1a1a" stroke-width="1.3"/>
<path d="M0.0 134.0C3.5 134.0 7.0 134.0 10.5 134.0C14.0 134.0 17.5 136.2 21.0 140.3C22.0 141.5 23.1 149.8 24.1 151.1C26.6 154.3 29.0 155.4 31.5 156.3C37.7 158.6 43.8 158.6 50.0 160.6C55.3 162.3 60.7 167.6 66.0 169.0C69.5 169.9 73.0 171.0 76.5 171.0C82.7 171.0 88.8 170.5 95.0 170.0C103.8 169.2 112.5 166.5 121.3 162.0C126.0 159.6 130.7 150.2 135.4 145.7C139.9 141.4 144.3 138.4 148.8 134.8" stroke="#fc1a1a" stroke-width="1.3"/>
<path d="M0.0 143.7C3.5 144.8 7.0 146.6 10.5 146.9C14.0 147.2 17.5 147.0 21.0 147.4C22.4 147.5 23.8 151.3 25.2 153.2C27.3 156.1 29.4 159.6 31.5 161.6C35.0 164.9 38.5 167.1 42.0 168.9C44.7 170.2 47.3 171.7 50.0 172.1C53.6 172.7 57.1 172.8 60.7 173.1C66.0 173.5 71.2 174.2 76.5 174.2C82.7 174.2 88.8 174.2 95.0 174.2C103.8 174.2 112.5 171.8 121.3 170.0C130.5 168.1 139.6 164.7 148.8 162.0" stroke="#fc1a1a" stroke-width="1.3"/>
<path d="M0.0 150.1L9.4 146.9" stroke="#fc1a1a" stroke-width="1.3"/>
<path d="M0.0 155.3C7.0 155.3 14.0 155.3 21.0 155.3C23.8 155.3 26.6 158.9 29.4 160.6C33.6 163.1 37.8 166.4 42.0 167.9C44.7 168.8 47.3 169.2 50.0 170.0C55.3 171.6 60.7 175.3 66.0 176.0C75.7 177.2 85.3 178.0 95.0 178.0C103.8 178.0 112.5 176.4 121.3 175.0C130.5 173.5 139.6 170.0 148.8 167.5" stroke="#fc1a1a" stroke-width="1.3"/>
<path d="M0.0 164.7C3.5 164.7 7.0 164.7 10.5 164.7C14.0 164.7 17.5 167.4 21.0 169.0C24.5 170.6 28.0 173.3 31.5 174.2C37.7 175.9 43.8 176.3 50.0 177.4C56.7 178.6 63.3 180.3 70.0 181.0C80.0 182.0 90.0 183.0 100.0 183.0C108.3 183.0 116.7 180.7 125.0 179.0C132.9 177.4 140.9 174.3 148.8 172.0" stroke="#fc1a1a" stroke-width="1.3"/>
<path d="M0.0 166.9C3.5 166.9 7.0 166.9 10.5 166.9C14.0 166.9 17.5 170.4 21.0 172.1C23.8 173.5 26.6 175.0 29.4 176.3C32.9 178.0 36.5 179.7 40.0 181.0C43.3 182.2 46.7 183.0 50.0 184.0" stroke="#fc1a1a" stroke-width="1.3"/>
<path d="M0.0 176.3C7.0 176.7 14.0 176.6 21.0 177.4C23.8 177.7 26.6 181.8 29.4 184.0" stroke="#fc1a1a" stroke-width="1.3"/>
<path d="M0.0 179.4L15.7 184.0" stroke="#fc1a1a" stroke-width="1.3"/>
<path d="M110.0 158.9C116.7 157.6 123.3 155.3 130.0 155.0C136.3 154.8 142.5 154.7 148.8 154.6" stroke="#fc1a1a" stroke-width="1.3"/>
<path d="M118.0 168.0L148.8 161.6" stroke="#fc1a1a" stroke-width="1.3"/>
<path d="M126.0 150.0C129.3 148.7 132.7 146.7 136.0 146.0C140.3 145.1 144.5 144.9 148.8 144.3" stroke="#fc1a1a" stroke-width="1.3"/>
<path d="M124.0 154.0C128.0 152.3 132.0 149.9 136.0 149.0C140.3 148.0 144.5 147.7 148.8 147.0" stroke="#fc1a1a" stroke-width="1.3"/>
<path d="M128.0 155.0C131.3 154.0 134.7 152.5 138.0 152.0C141.6 151.4 145.2 151.2 148.8 150.8" stroke="#fc1a1a" stroke-width="1.3"/>
<path d="M120.0 163.0C125.0 162.0 130.0 160.6 135.0 160.0C139.6 159.5 144.2 159.3 148.8 158.9" stroke="#fc1a1a" stroke-width="1.3"/>
<path d="M122.0 172.0C126.7 171.0 131.3 169.7 136.0 169.0C140.3 168.4 144.5 168.0 148.8 167.5" stroke="#fc1a1a" stroke-width="1.3"/>
<path d="M89.0 178.3C96.2 177.6 103.4 177.0 110.6 176.1C117.8 175.2 124.9 174.1 132.1 172.9C137.7 172.0 143.2 170.8 148.8 169.7" stroke="#fc1a1a" stroke-width="1.3"/>
<path d="M0.0 109.7C1.7 110.1 3.3 110.5 5.0 111.0C7.3 111.7 9.7 113.0 12.0 114.0" stroke="#fc1a1a" stroke-width="1.3"/>
</g>
</g></g>
<line x1="232.4" y1="86.5" x2="232.4" y2="131" stroke="#1ee61e" stroke-width="1.5"/>
<path d="M230.7 88.0L232.4 81.8L234.3 88.0Z" fill="#1ee61e"/>
<rect x="335.0" y="178.9" width="33.8" height="19.0" fill="#fff09a" opacity="0.92"/>
<path d="M354.3 179.4H368.4V188.3H354.3Z M354.8 188.0L368.0 180.8" fill="none" stroke="#f2607e" stroke-width="0.9"/>
<g font-family="Liberation Serif" font-size="9.6" fill="#111">
<text x="353.4" y="177.9" text-anchor="middle">Y</text>
<text x="371.9" y="178.2" text-anchor="middle">S</text>
<text x="352.4" y="195.2" text-anchor="middle">Γ</text>
<text x="372.1" y="195.4" text-anchor="middle">X</text>
</g>
<rect x="340.1" y="23.9" width="39.1" height="19.4" fill="#7ef0f4"/>
<text x="359.8" y="37.0" font-family="Liberation Serif" font-weight="bold" font-size="12.6" fill="#000" text-anchor="middle" stroke="#000" stroke-width="0.28">In<tspan font-size="7.5" dy="3">2</tspan><tspan dy="-3">STe</tspan></text>
<line x1="325.0" y1="90.4" x2="345.0" y2="90.4" stroke="#3b45e6" stroke-width="1.3" stroke-dasharray="2.2 1.7"/>
<line x1="325.0" y1="102.7" x2="346.0" y2="102.7" stroke="#fc1a1a" stroke-width="1.5"/>
<g font-family="Liberation Serif" font-weight="bold" font-size="9.7" fill="#111" stroke="#111" stroke-width="0.28">
<text x="348.5" y="94.2">HSE06</text>
<text x="348.5" y="106.5">PBE</text>
</g>
<text x="246.3" y="122.5" font-family="Liberation Serif" font-weight="bold" font-size="9.6" fill="#222" stroke="#222" stroke-width="0.28">E<tspan font-size="6.5" dy="2.5">g</tspan><tspan dy="-2.5">=</tspan><tspan fill="#f01818" stroke="#f01818">1.43 eV</tspan><tspan fill="#1f2ee0" stroke="#1f2ee0">(2.15 eV)</tspan></text>
<rect x="231.0" y="22.3" width="149.5" height="182.5" fill="none" stroke="#333" stroke-width="1.5"/>
<line x1="231.0" y1="59.2" x2="234.0" y2="59.2" stroke="#333" stroke-width="1.2"/>
<line x1="231.0" y1="132.0" x2="234.0" y2="132.0" stroke="#333" stroke-width="1.2"/>
<g font-family="Liberation Serif" font-weight="bold" font-size="11.5" fill="#111" text-anchor="end" stroke="#111" stroke-width="0.28">
<text x="226.7" y="62.5">2</text>
<text x="226.7" y="135.5">0</text>
<text x="226.7" y="208.7">-2</text>
</g>
<g font-family="Liberation Serif" font-weight="bold" font-size="11.5" fill="#111" stroke="#111" stroke-width="0.28">
<text x="228.0" y="218.2">Γ X</text>
<text x="302.4" y="218.2">S Y</text>
<text x="380.5" y="218.2" text-anchor="middle">Γ</text>
</g>
<clipPath id="clip3"><rect x="421.7" y="22.3" width="148.9" height="182.5"/></clipPath>
<rect x="421.7" y="76.7" width="148.9" height="54.5" fill="#fcb05b"/>
<line x1="431.3" y1="23.8" x2="431.3" y2="204.8" stroke="#a8d2f4" stroke-width="1.5" stroke-dasharray="1.5 3"/>
<line x1="495.9" y1="23.8" x2="495.9" y2="204.8" stroke="#a8d2f4" stroke-width="1.5" stroke-dasharray="1.5 3"/>
<line x1="506.5" y1="23.8" x2="506.5" y2="204.8" stroke="#a8d2f4" stroke-width="1.5" stroke-dasharray="1.5 3"/>
<g clip-path="url(#clip3)"><g transform="translate(421.70 22.30) scale(0.9927 1)">
<g fill="none" stroke-linecap="round">
<path d="M1.0 5.1L9.7 10.7" stroke="#3b45e6" stroke-width="1.3" stroke-dasharray="2.2 1.6"/>
<path d="M0.0 12.9C1.5 13.2 3.0 13.8 4.5 13.8C6.0 13.8 7.4 12.6 8.9 12.0" stroke="#3b45e6" stroke-width="1.3" stroke-dasharray="2.2 1.6"/>
<path d="M0.0 18.6C2.7 19.5 5.3 21.2 8.0 21.2C9.4 21.2 10.9 21.2 12.3 21.2C15.2 21.2 18.1 15.7 21.0 12.5C24.2 9.0 27.4 4.0 30.6 1.0C31.4 0.2 32.2 -0.3 33.0 -1.0" stroke="#3b45e6" stroke-width="1.3" stroke-dasharray="2.2 1.6"/>
<path d="M70.0 0.8C75.0 0.8 80.0 0.8 85.0 0.8C90.0 0.8 95.0 1.3 100.0 1.5" stroke="#3b45e6" stroke-width="1.3" stroke-dasharray="2.2 1.6"/>
<path d="M135.0 17.0C137.1 18.6 139.3 20.5 141.4 21.8C143.9 23.3 146.3 24.2 148.8 25.4" stroke="#3b45e6" stroke-width="1.3" stroke-dasharray="2.2 1.6"/>
<path d="M0.0 120.5C6.8 120.5 13.5 120.5 20.3 120.4C27.3 120.3 34.3 119.9 41.3 119.9C44.0 119.9 46.6 121.5 49.3 122.5C54.6 124.5 60.0 130.1 65.3 130.4C72.3 130.7 79.3 130.9 86.3 130.9C89.0 130.9 91.6 130.3 94.3 129.8C99.8 128.7 105.4 122.4 110.9 121.5C116.6 120.6 122.2 119.8 127.9 119.8C134.9 119.8 141.8 120.6 148.8 121.0" stroke="#3b45e6" stroke-width="1.3" stroke-dasharray="2.2 1.6"/>
<path d="M8.7 127.0C14.3 126.3 19.9 125.0 25.5 125.0C30.8 125.0 36.0 126.7 41.3 128.0C49.3 129.9 57.3 135.1 65.3 136.1C72.3 137.0 79.3 137.7 86.3 137.7C89.0 137.7 91.6 137.5 94.3 137.2C98.0 136.8 101.6 133.5 105.3 132.0C111.7 129.4 118.1 125.5 124.5 125.5C129.4 125.5 134.3 128.0 139.2 129.5C142.4 130.5 145.6 131.8 148.8 133.0" stroke="#3b45e6" stroke-width="1.3" stroke-dasharray="2.2 1.6"/>
<path d="M0.0 136.1C3.3 136.3 6.5 136.3 9.8 136.7C13.3 137.1 16.8 142.2 20.3 145.7C23.8 149.2 27.3 155.9 30.8 158.0C37.0 161.7 43.1 162.2 49.3 165.0C54.6 167.4 60.0 174.2 65.3 174.2C75.0 174.2 84.6 173.2 94.3 172.1C102.9 171.1 111.4 168.5 120.0 165.0C126.7 162.3 133.3 156.2 140.0 150.0C142.9 147.3 145.9 143.3 148.8 140.0" stroke="#3b45e6" stroke-width="1.3" stroke-dasharray="2.2 1.6"/>
<path d="M0.0 143.5C3.3 143.8 6.5 143.9 9.8 144.5C13.2 145.1 16.6 147.8 20.0 150.0C25.0 153.2 30.0 159.3 35.0 162.0C40.0 164.7 45.0 166.0 50.0 168.0" stroke="#3b45e6" stroke-width="1.3" stroke-dasharray="2.2 1.6"/>
<path d="M0.0 161.6C3.3 161.6 6.7 161.6 10.0 161.6C13.4 161.6 16.9 166.4 20.3 169.0C23.8 171.6 27.3 175.0 30.8 177.4C33.9 179.5 36.9 181.1 40.0 183.0" stroke="#3b45e6" stroke-width="1.3" stroke-dasharray="2.2 1.6"/>
<path d="M0.0 173.1C3.3 173.1 6.7 173.1 10.0 173.1C13.4 173.1 16.9 175.2 20.3 177.4C22.0 178.5 23.8 181.5 25.5 183.5" stroke="#3b45e6" stroke-width="1.3" stroke-dasharray="2.2 1.6"/>
<path d="M0.0 176.3C3.3 176.3 6.7 176.3 10.0 176.3C13.3 176.3 16.7 179.4 20.0 181.0" stroke="#3b45e6" stroke-width="1.3" stroke-dasharray="2.2 1.6"/>
<path d="M120.0 165.0C125.0 161.7 130.0 158.8 135.0 155.0C139.6 151.5 144.2 146.8 148.8 142.7" stroke="#3b45e6" stroke-width="1.3" stroke-dasharray="2.2 1.6"/>
<path d="M9.7 10.7C12.0 9.6 14.4 8.8 16.7 7.3C19.3 5.6 21.9 1.8 24.5 -1.0" stroke="#5a63e8" stroke-width="1.15"/>
<path d="M0.0 140.0C4.0 141.6 7.9 142.7 11.9 144.8C14.7 146.3 17.5 148.5 20.3 151.1C23.8 154.3 27.3 162.3 30.8 163.7C37.0 166.2 43.1 165.7 49.3 167.9C54.6 169.8 60.0 178.9 65.3 179.4C72.3 180.1 79.3 180.5 86.3 180.5C89.0 180.5 91.6 178.3 94.3 177.4C102.9 174.5 111.4 173.6 120.0 170.0C126.7 167.2 133.3 161.2 140.0 155.0C142.9 152.3 145.9 148.3 148.8 145.0" stroke="#5a63e8" stroke-width="1.15"/>
<path d="M0.0 24.5C1.5 24.7 3.1 24.8 4.6 25.0C6.3 25.3 8.1 26.6 9.8 26.6C12.2 26.6 14.6 23.5 17.0 21.9C19.0 20.6 21.0 19.3 23.0 18.0C27.7 15.1 32.3 9.5 37.0 9.5C41.7 9.5 46.3 10.4 51.0 11.0C55.0 11.5 59.0 12.4 63.0 13.0C66.7 13.5 70.3 14.5 74.0 14.5C77.7 14.5 81.3 14.5 85.0 14.5C91.3 14.5 97.5 12.9 103.8 11.3C106.6 10.6 109.5 8.8 112.3 7.7C116.5 6.0 120.8 4.6 125.0 3.0" stroke="#fc1a1a" stroke-width="1.3"/>
<path d="M0.0 31.3C1.5 30.4 3.1 29.4 4.6 28.7C6.3 27.9 8.1 27.3 9.8 26.6" stroke="#fc1a1a" stroke-width="1.3"/>
<path d="M0.0 33.4C3.3 35.7 6.5 40.3 9.8 40.3C13.3 40.3 16.8 36.1 20.3 33.4C23.8 30.7 27.3 26.4 30.8 24.0C33.2 22.3 35.7 21.3 38.1 19.8C40.4 18.4 42.7 15.4 45.0 15.4C50.7 15.4 56.3 16.8 62.0 17.8C66.0 18.5 70.0 20.3 74.0 20.3C77.7 20.3 81.3 20.3 85.0 20.3C89.5 20.3 94.0 18.1 98.5 16.6C103.1 15.1 107.7 12.4 112.3 10.8C116.5 9.3 120.8 8.3 125.0 7.0" stroke="#fc1a1a" stroke-width="1.3"/>
<path d="M0.0 42.4C1.5 42.1 3.1 41.8 4.6 41.5C6.3 41.1 8.1 40.7 9.8 40.3" stroke="#fc1a1a" stroke-width="1.3"/>
<path d="M0.0 47.1C3.3 47.8 6.5 49.2 9.8 49.2C13.3 49.2 16.8 44.8 20.3 41.8C23.8 38.8 27.3 33.8 30.8 30.3C33.6 27.5 36.5 23.6 39.3 22.4C41.9 21.3 44.4 20.2 47.0 20.2C52.0 20.2 57.0 23.5 62.0 24.9C66.0 26.0 70.0 28.1 74.0 28.1C77.7 28.1 81.3 28.1 85.0 28.1C87.8 28.1 90.5 26.1 93.3 25.0C96.8 23.6 100.3 22.4 103.8 20.8C106.6 19.5 109.5 17.6 112.3 16.6C114.2 15.9 116.1 15.5 118.0 15.0" stroke="#fc1a1a" stroke-width="1.3"/>
<path d="M0.0 52.9C1.5 52.1 3.1 51.0 4.6 50.5C6.3 49.9 8.1 49.6 9.8 49.2" stroke="#fc1a1a" stroke-width="1.3"/>
<path d="M47.0 -1.0C51.3 1.0 55.7 3.8 60.0 5.0C64.7 6.3 69.3 7.7 74.0 7.7C77.7 7.7 81.3 7.7 85.0 7.7C89.5 7.7 94.0 4.9 98.5 3.5C101.3 2.6 104.2 1.9 107.0 0.9C108.7 0.3 110.3 -0.4 112.0 -1.0" stroke="#fc1a1a" stroke-width="1.3"/>
<path d="M50.0 -1.0C55.3 2.2 60.7 6.5 66.0 8.5C68.7 9.5 71.3 10.8 74.0 10.8C77.7 10.8 81.3 10.8 85.0 10.8C91.3 10.8 97.5 5.5 103.8 4.0C106.6 3.3 109.5 2.9 112.3 2.4C114.9 1.9 117.4 1.5 120.0 1.0" stroke="#fc1a1a" stroke-width="1.3"/>
<path d="M85.0 28.1C90.0 27.4 95.0 26.9 100.0 26.0C104.1 25.3 108.2 23.7 112.3 22.9C114.5 22.5 116.7 21.8 118.9 21.8C121.3 21.8 123.6 22.8 126.0 24.0C128.3 25.2 130.7 29.9 133.0 33.0C135.8 36.8 138.6 41.7 141.4 44.9C143.9 47.7 146.3 49.6 148.8 51.9" stroke="#fc1a1a" stroke-width="1.3"/>
<path d="M108.0 16.0C112.8 17.9 117.7 19.0 122.5 21.8C126.4 24.1 130.4 30.4 134.3 34.2C139.1 38.9 144.0 42.9 148.8 47.2" stroke="#fc1a1a" stroke-width="1.3"/>
<path d="M112.0 14.0C116.7 16.6 121.3 18.5 126.0 21.8C129.9 24.6 133.9 30.1 137.8 33.1C141.5 35.9 145.1 37.8 148.8 40.1" stroke="#fc1a1a" stroke-width="1.3"/>
<path d="M118.0 14.0C121.9 16.6 125.7 18.9 129.6 21.8C132.7 24.1 135.9 27.9 139.0 29.5C142.3 31.2 145.5 31.9 148.8 33.1" stroke="#fc1a1a" stroke-width="1.3"/>
<path d="M122.0 15.0C125.3 17.3 128.7 19.5 132.0 21.8C135.1 23.9 138.3 26.7 141.4 28.3C143.9 29.5 146.3 30.3 148.8 31.3" stroke="#fc1a1a" stroke-width="1.3"/>
<path d="M0.0 1.2L9.0 -0.8" stroke="#fc1a1a" stroke-width="1.3"/>
<path d="M0.0 109.9C3.3 110.3 6.5 111.0 9.8 111.0C15.0 111.0 20.3 110.4 25.5 110.4C29.0 110.4 32.5 111.8 36.0 113.0C40.4 114.5 44.9 118.4 49.3 120.4C51.1 121.2 53.0 121.8 54.8 122.5C60.0 124.4 65.3 127.7 70.5 127.7C75.8 127.7 81.0 127.7 86.3 127.7C89.0 127.7 91.6 125.3 94.3 124.6C98.0 123.7 101.6 123.6 105.3 122.7C110.9 121.2 116.6 114.2 122.2 112.5C126.0 111.4 129.7 110.2 133.5 110.2C138.6 110.2 143.7 110.6 148.8 110.8" stroke="#fc1a1a" stroke-width="1.3"/>
<path d="M0.0 118.8C5.0 118.8 10.0 118.8 15.0 118.8C20.3 118.8 25.5 117.8 30.8 117.8C34.3 117.8 37.8 118.3 41.3 118.8C44.0 119.2 46.6 120.2 49.3 121.4C51.1 122.2 53.0 124.4 54.8 125.1C60.0 127.1 65.3 128.8 70.5 128.8C75.8 128.8 81.0 128.8 86.3 128.8C89.0 128.8 91.6 128.4 94.3 128.0C99.8 127.2 105.4 121.9 110.9 120.4C114.7 119.4 118.4 118.1 122.2 118.1C131.1 118.1 139.9 118.9 148.8 119.3" stroke="#fc1a1a" stroke-width="1.3"/>
<path d="M0.0 122.0C2.9 123.4 5.8 126.2 8.7 126.2C14.3 126.2 19.9 123.5 25.5 123.5C30.8 123.5 36.0 125.4 41.3 126.7C45.8 127.8 50.3 129.6 54.8 130.9C60.0 132.4 65.3 134.8 70.5 135.1C75.8 135.4 81.0 135.6 86.3 135.6C89.0 135.6 91.6 134.0 94.3 133.0C98.0 131.6 101.6 129.1 105.3 128.0C110.9 126.3 116.6 125.0 122.2 124.4C131.1 123.5 139.9 123.3 148.8 122.7" stroke="#fc1a1a" stroke-width="1.3"/>
<path d="M0.0 131.4C1.3 130.9 2.7 130.6 4.0 130.0C5.6 129.2 7.1 127.5 8.7 126.2" stroke="#fc1a1a" stroke-width="1.3"/>
<path d="M86.3 137.0C92.6 134.9 99.0 132.7 105.3 130.6C111.7 128.5 118.1 124.4 124.5 124.4C129.4 124.4 134.3 126.8 139.2 128.3C142.4 129.3 145.6 130.6 148.8 131.7" stroke="#fc1a1a" stroke-width="1.3"/>
<path d="M0.0 131.4C3.3 131.6 6.5 131.6 9.8 131.9C11.5 132.1 13.3 132.9 15.0 134.0C17.5 135.5 19.9 141.6 22.4 145.7C23.4 147.4 24.5 150.5 25.5 151.1C29.0 153.1 32.5 153.3 36.0 154.2C40.4 155.4 44.9 156.0 49.3 157.4C51.1 158.0 53.0 158.8 54.8 159.5C60.0 161.6 65.3 166.3 70.5 166.3C75.8 166.3 81.0 166.3 86.3 166.3C89.0 166.3 91.6 164.2 94.3 163.2C99.5 161.3 104.8 159.9 110.0 158.0C114.1 156.5 118.1 154.6 122.2 152.9C126.0 151.4 129.7 150.4 133.5 148.4C136.1 147.0 138.8 144.8 141.4 142.7C143.9 140.7 146.3 138.2 148.8 136.0" stroke="#fc1a1a" stroke-width="1.3"/>
<path d="M0.0 138.2C3.3 138.4 6.5 138.4 9.8 138.8C12.2 139.1 14.7 140.1 17.1 141.4C18.5 142.2 19.9 144.4 21.3 145.7C23.8 148.0 26.2 150.9 28.7 152.2C35.6 155.9 42.4 157.0 49.3 159.5C51.1 160.2 53.0 160.8 54.8 161.6C60.0 164.0 65.3 170.3 70.5 171.0C75.8 171.7 81.0 172.1 86.3 172.1C89.0 172.1 91.6 169.1 94.3 167.9C99.5 165.6 104.8 164.2 110.0 162.0C115.0 159.9 120.0 158.0 125.0 155.0C129.0 152.7 132.9 149.3 136.9 145.7C140.9 142.1 144.8 137.1 148.8 132.8" stroke="#fc1a1a" stroke-width="1.3"/>
<path d="M0.0 152.2C3.3 152.2 6.7 152.2 10.0 152.2C13.4 152.2 16.9 153.2 20.3 154.0C23.8 154.8 27.3 156.4 30.8 158.0C35.3 160.0 39.8 163.6 44.3 165.3C49.5 167.3 54.8 169.1 60.0 170.0C67.0 171.3 74.0 171.7 81.0 172.6C85.4 173.1 89.9 174.2 94.3 174.2C102.9 174.2 111.4 173.2 120.0 172.0C129.6 170.7 139.2 164.0 148.8 160.0" stroke="#fc1a1a" stroke-width="1.3"/>
<path d="M0.0 158.5C3.3 158.5 6.7 158.5 10.0 158.5C13.4 158.5 16.9 159.4 20.3 160.5C23.9 161.6 27.4 168.3 31.0 169.0C37.1 170.3 43.2 170.0 49.3 171.0C56.2 172.1 63.1 176.5 70.0 177.0C78.1 177.6 86.2 178.0 94.3 178.0C102.9 178.0 111.4 177.0 120.0 176.0C129.6 174.8 139.2 170.7 148.8 168.0" stroke="#fc1a1a" stroke-width="1.3"/>
<path d="M0.0 163.7C3.3 164.0 6.7 164.2 10.0 164.7C15.2 165.5 20.3 167.6 25.5 170.0C29.0 171.6 32.5 176.9 36.0 177.4C40.4 178.0 44.9 177.9 49.3 178.4C56.2 179.1 63.1 181.8 70.0 182.0C80.0 182.3 90.0 182.5 100.0 182.5C116.3 182.5 132.5 178.2 148.8 176.0" stroke="#fc1a1a" stroke-width="1.3"/>
<path d="M0.0 166.9C3.3 167.2 6.7 167.3 10.0 167.9C11.7 168.2 13.3 169.1 15.0 170.0C18.5 171.9 22.0 175.4 25.5 178.4C27.3 180.0 29.2 181.8 31.0 183.5" stroke="#fc1a1a" stroke-width="1.3"/>
<path d="M0.0 180.0C3.3 180.2 6.7 180.2 10.0 180.5C13.3 180.8 16.7 182.8 20.0 184.0" stroke="#fc1a1a" stroke-width="1.3"/>
<path d="M110.0 175.0C115.0 172.7 120.0 170.7 125.0 168.0C130.0 165.3 135.0 161.9 140.0 158.0C142.9 155.7 145.9 152.7 148.8 150.0" stroke="#fc1a1a" stroke-width="1.3"/>
<path d="M115.0 180.0C121.7 176.7 128.3 174.0 135.0 170.0C139.6 167.2 144.2 163.3 148.8 160.0" stroke="#fc1a1a" stroke-width="1.3"/>
<path d="M120.0 184.0C126.7 181.0 133.3 178.4 140.0 175.0C142.9 173.5 145.9 171.7 148.8 170.0" stroke="#fc1a1a" stroke-width="1.3"/>
</g>
</g></g>
<line x1="423.1" y1="81.7" x2="423.1" y2="131" stroke="#1ee61e" stroke-width="1.5"/>
<path d="M421.4 83.2L423.1 77.0L425.0 83.2Z" fill="#1ee61e"/>
<rect x="520.1" y="178.9" width="33.8" height="19.0" fill="#fff09a" opacity="0.92"/>
<path d="M541.1 179.4H553.5V188.3H541.1Z M541.6 188.0L553.1 180.8" fill="none" stroke="#f2607e" stroke-width="0.9"/>
<g font-family="Liberation Serif" font-size="9.6" fill="#111">
<text x="543.5" y="177.9" text-anchor="middle">Y</text>
<text x="558.5" y="178.2" text-anchor="middle">S</text>
<text x="542.1" y="195.2" text-anchor="middle">Γ</text>
<text x="559.0" y="195.4" text-anchor="middle">X</text>
</g>
<rect x="530.7" y="24.5" width="37.3" height="19.2" fill="#7ef0f4"/>
<text x="549.4" y="36.7" font-family="Liberation Serif" font-weight="bold" font-size="12.6" fill="#000" text-anchor="middle" stroke="#000" stroke-width="0.28">In<tspan font-size="7.5" dy="3">2</tspan><tspan dy="-3">SSe</tspan></text>
<line x1="515.6" y1="84.3" x2="535.6" y2="84.3" stroke="#3b45e6" stroke-width="1.3" stroke-dasharray="2.2 1.7"/>
<line x1="515.6" y1="96.6" x2="536.6" y2="96.6" stroke="#fc1a1a" stroke-width="1.5"/>
<g font-family="Liberation Serif" font-weight="bold" font-size="9.7" fill="#111" stroke="#111" stroke-width="0.28">
<text x="539.1" y="88.1">HSE06</text>
<text x="539.1" y="100.4">PBE</text>
</g>
<text x="436.3" y="122.3" font-family="Liberation Serif" font-weight="bold" font-size="9.6" fill="#222" stroke="#222" stroke-width="0.28">E<tspan font-size="6.5" dy="2.5">g</tspan><tspan dy="-2.5">=</tspan><tspan fill="#f01818" stroke="#f01818">1.54 eV</tspan><tspan fill="#1f2ee0" stroke="#1f2ee0">(2.29 eV)</tspan></text>
<rect x="421.7" y="22.3" width="148.9" height="182.5" fill="none" stroke="#333" stroke-width="1.5"/>
<line x1="421.7" y1="59.2" x2="424.7" y2="59.2" stroke="#333" stroke-width="1.2"/>
<line x1="421.7" y1="132.0" x2="424.7" y2="132.0" stroke="#333" stroke-width="1.2"/>
<g font-family="Liberation Serif" font-weight="bold" font-size="11.5" fill="#111" text-anchor="end" stroke="#111" stroke-width="0.28">
<text x="417.4" y="62.5">2</text>
<text x="417.4" y="135.5">0</text>
<text x="417.4" y="208.7">-2</text>
</g>
<g font-family="Liberation Serif" font-weight="bold" font-size="11.5" fill="#111" stroke="#111" stroke-width="0.28">
<text x="418.7" y="218.2">Γ X</text>
<text x="491.9" y="218.2">S Y</text>
<text x="570.6" y="218.2" text-anchor="middle">Γ</text>
</g>
<rect x="33.7" y="247.8" width="242.8" height="96.5" fill="#b4fdb1"/>
<polygon points="33.7,310.2 95.1,310.2 95.1,298.8 137.5,298.8 137.5,284.2 168.2,284.2 168.2,299.0 209.0,299.0 209.0,309.8 276.5,309.8 276.5,344.3 33.7,344.3" fill="#fcd4b6"/>
<polyline points="57.8,327.2 82.1,317.2 106.4,309.4 130.7,304.2 155.0,300.2 179.3,296.7 203.6,295.6 227.9,296.5 252.2,305.5" fill="none" stroke="#f52020" stroke-width="1.6" stroke-linejoin="round"/>
<circle cx="57.8" cy="327.2" r="2.1" fill="#f52020" stroke="#b00000" stroke-width="0.5"/><circle cx="57.2" cy="326.6" r="0.7" fill="#fff" opacity="0.45"/>
<circle cx="82.1" cy="317.2" r="2.1" fill="#f52020" stroke="#b00000" stroke-width="0.5"/><circle cx="81.5" cy="316.6" r="0.7" fill="#fff" opacity="0.45"/>
<circle cx="106.4" cy="309.4" r="2.1" fill="#f52020" stroke="#b00000" stroke-width="0.5"/><circle cx="105.8" cy="308.8" r="0.7" fill="#fff" opacity="0.45"/>
<circle cx="130.7" cy="304.2" r="2.1" fill="#f52020" stroke="#b00000" stroke-width="0.5"/><circle cx="130.1" cy="303.6" r="0.7" fill="#fff" opacity="0.45"/>
<circle cx="155.0" cy="300.2" r="2.1" fill="#f52020" stroke="#b00000" stroke-width="0.5"/><circle cx="154.4" cy="299.6" r="0.7" fill="#fff" opacity="0.45"/>
<circle cx="179.3" cy="296.7" r="2.1" fill="#f52020" stroke="#b00000" stroke-width="0.5"/><circle cx="178.7" cy="296.1" r="0.7" fill="#fff" opacity="0.45"/>
<circle cx="203.6" cy="295.6" r="2.1" fill="#f52020" stroke="#b00000" stroke-width="0.5"/><circle cx="203.0" cy="295.0" r="0.7" fill="#fff" opacity="0.45"/>
<circle cx="227.9" cy="296.5" r="2.1" fill="#f52020" stroke="#b00000" stroke-width="0.5"/><circle cx="227.3" cy="295.9" r="0.7" fill="#fff" opacity="0.45"/>
<circle cx="252.2" cy="305.5" r="2.1" fill="#f52020" stroke="#b00000" stroke-width="0.5"/><circle cx="251.6" cy="304.9" r="0.7" fill="#fff" opacity="0.45"/>
<polyline points="57.8,308.1 82.1,299.7 106.4,292.0 130.7,287.8 155.0,289.8 179.3,300.0 203.6,309.7 227.9,320.3 252.2,333.1" fill="none" stroke="#8a1ee6" stroke-width="1.6" stroke-linejoin="round"/>
<circle cx="57.8" cy="308.1" r="2.1" fill="#8a1ee6" stroke="#5a0aa0" stroke-width="0.5"/><circle cx="57.2" cy="307.5" r="0.7" fill="#fff" opacity="0.45"/>
<circle cx="82.1" cy="299.7" r="2.1" fill="#8a1ee6" stroke="#5a0aa0" stroke-width="0.5"/><circle cx="81.5" cy="299.1" r="0.7" fill="#fff" opacity="0.45"/>
<circle cx="106.4" cy="292.0" r="2.1" fill="#8a1ee6" stroke="#5a0aa0" stroke-width="0.5"/><circle cx="105.8" cy="291.4" r="0.7" fill="#fff" opacity="0.45"/>
<circle cx="130.7" cy="287.8" r="2.1" fill="#8a1ee6" stroke="#5a0aa0" stroke-width="0.5"/><circle cx="130.1" cy="287.2" r="0.7" fill="#fff" opacity="0.45"/>
<circle cx="155.0" cy="289.8" r="2.1" fill="#8a1ee6" stroke="#5a0aa0" stroke-width="0.5"/><circle cx="154.4" cy="289.2" r="0.7" fill="#fff" opacity="0.45"/>
<circle cx="179.3" cy="300.0" r="2.1" fill="#8a1ee6" stroke="#5a0aa0" stroke-width="0.5"/><circle cx="178.7" cy="299.4" r="0.7" fill="#fff" opacity="0.45"/>
<circle cx="203.6" cy="309.7" r="2.1" fill="#8a1ee6" stroke="#5a0aa0" stroke-width="0.5"/><circle cx="203.0" cy="309.1" r="0.7" fill="#fff" opacity="0.45"/>
<circle cx="227.9" cy="320.3" r="2.1" fill="#8a1ee6" stroke="#5a0aa0" stroke-width="0.5"/><circle cx="227.3" cy="319.7" r="0.7" fill="#fff" opacity="0.45"/>
<circle cx="252.2" cy="333.1" r="2.1" fill="#8a1ee6" stroke="#5a0aa0" stroke-width="0.5"/><circle cx="251.6" cy="332.5" r="0.7" fill="#fff" opacity="0.45"/>
<polyline points="57.8,282.5 82.1,275.2 106.4,268.9 130.7,264.3 155.0,261.6 179.3,261.1 203.6,259.9 227.9,258.7 252.2,259.9" fill="none" stroke="#1a229a" stroke-width="1.6" stroke-linejoin="round"/>
<circle cx="57.8" cy="282.5" r="2.1" fill="#1a229a" stroke="#0a0f60" stroke-width="0.5"/><circle cx="57.2" cy="281.9" r="0.7" fill="#fff" opacity="0.45"/>
<circle cx="82.1" cy="275.2" r="2.1" fill="#1a229a" stroke="#0a0f60" stroke-width="0.5"/><circle cx="81.5" cy="274.6" r="0.7" fill="#fff" opacity="0.45"/>
<circle cx="106.4" cy="268.9" r="2.1" fill="#1a229a" stroke="#0a0f60" stroke-width="0.5"/><circle cx="105.8" cy="268.3" r="0.7" fill="#fff" opacity="0.45"/>
<circle cx="130.7" cy="264.3" r="2.1" fill="#1a229a" stroke="#0a0f60" stroke-width="0.5"/><circle cx="130.1" cy="263.7" r="0.7" fill="#fff" opacity="0.45"/>
<circle cx="155.0" cy="261.6" r="2.1" fill="#1a229a" stroke="#0a0f60" stroke-width="0.5"/><circle cx="154.4" cy="261.0" r="0.7" fill="#fff" opacity="0.45"/>
<circle cx="179.3" cy="261.1" r="2.1" fill="#1a229a" stroke="#0a0f60" stroke-width="0.5"/><circle cx="178.7" cy="260.5" r="0.7" fill="#fff" opacity="0.45"/>
<circle cx="203.6" cy="259.9" r="2.1" fill="#1a229a" stroke="#0a0f60" stroke-width="0.5"/><circle cx="203.0" cy="259.3" r="0.7" fill="#fff" opacity="0.45"/>
<circle cx="227.9" cy="258.7" r="2.1" fill="#1a229a" stroke="#0a0f60" stroke-width="0.5"/><circle cx="227.3" cy="258.1" r="0.7" fill="#fff" opacity="0.45"/>
<circle cx="252.2" cy="259.9" r="2.1" fill="#1a229a" stroke="#0a0f60" stroke-width="0.5"/><circle cx="251.6" cy="259.3" r="0.7" fill="#fff" opacity="0.45"/>
<rect x="33.7" y="247.8" width="242.8" height="96.5" fill="none" stroke="#444" stroke-width="1.3"/>
<line x1="57.8" y1="344.3" x2="57.8" y2="341.3" stroke="#444" stroke-width="1"/>
<line x1="82.1" y1="344.3" x2="82.1" y2="342.3" stroke="#444" stroke-width="1"/>
<line x1="106.4" y1="344.3" x2="106.4" y2="341.3" stroke="#444" stroke-width="1"/>
<line x1="130.7" y1="344.3" x2="130.7" y2="342.3" stroke="#444" stroke-width="1"/>
<line x1="155.0" y1="344.3" x2="155.0" y2="341.3" stroke="#444" stroke-width="1"/>
<line x1="179.3" y1="344.3" x2="179.3" y2="342.3" stroke="#444" stroke-width="1"/>
<line x1="203.6" y1="344.3" x2="203.6" y2="341.3" stroke="#444" stroke-width="1"/>
<line x1="227.9" y1="344.3" x2="227.9" y2="342.3" stroke="#444" stroke-width="1"/>
<line x1="252.2" y1="344.3" x2="252.2" y2="341.3" stroke="#444" stroke-width="1"/>
<line x1="33.7" y1="252.1" x2="36.7" y2="252.1" stroke="#444" stroke-width="1"/>
<line x1="33.7" y1="274.4" x2="36.7" y2="274.4" stroke="#444" stroke-width="1"/>
<line x1="33.7" y1="296.7" x2="36.7" y2="296.7" stroke="#444" stroke-width="1"/>
<line x1="33.7" y1="319.0" x2="36.7" y2="319.0" stroke="#444" stroke-width="1"/>
<line x1="33.7" y1="341.3" x2="36.7" y2="341.3" stroke="#444" stroke-width="1"/>
<g font-family="Liberation Serif" font-weight="bold" font-size="10.5" fill="#111" text-anchor="end" stroke="#111" stroke-width="0.28">
<text x="30.7" y="255.7">1.6</text>
<text x="30.7" y="278.0">1.5</text>
<text x="30.7" y="300.3">1.4</text>
<text x="30.7" y="322.6">1.3</text>
<text x="30.7" y="344.9">1.2</text>
</g>
<g font-family="Liberation Serif" font-weight="bold" font-size="10.5" fill="#111" text-anchor="middle" stroke="#111" stroke-width="0.28">
<text x="57.8" y="358">-4</text>
<text x="106.4" y="358">-2</text>
<text x="155.0" y="358">0</text>
<text x="203.6" y="358">2</text>
<text x="252.2" y="358">4</text>
</g>
<text x="153.2" y="377.6" font-family="Liberation Serif" font-weight="bold" font-size="12.4" fill="#111" text-anchor="middle" stroke="#111" stroke-width="0.28">Strain (%)</text>
<text transform="translate(13.8 295) rotate(-90)" font-family="Liberation Serif" font-weight="bold" font-size="10.6" fill="#111" text-anchor="middle" stroke="#111" stroke-width="0.28">Energy (eV)</text>
<text x="38.6" y="259.4" font-family="Liberation Serif" font-weight="bold" font-size="10.45" fill="#0e7a14" stroke="#0e7a14" stroke-width="0.28">Indirect</text>
<text x="37" y="340.5" font-family="Liberation Serif" font-weight="bold" font-size="10.3" fill="#a8300c" stroke="#a8300c" stroke-width="0.28">Direct</text>
<line x1="218.5" y1="266.8" x2="237.8" y2="266.8" stroke="#f52020" stroke-width="1.6"/>
<circle cx="228" cy="266.8" r="1.9" fill="#f52020" stroke="#b00000" stroke-width="0.5"/>
<text x="239.2" y="269.7" font-family="Liberation Serif" font-weight="bold" font-size="8.8" fill="#111" stroke="#111" stroke-width="0.28"><tspan font-style="italic">x</tspan>-In<tspan font-size="5.8" dy="2.3">2</tspan><tspan dy="-2.3">SeTe</tspan></text>
<line x1="218.5" y1="279.7" x2="237.8" y2="279.7" stroke="#8a1ee6" stroke-width="1.6"/>
<circle cx="228" cy="279.7" r="1.9" fill="#8a1ee6" stroke="#5a0aa0" stroke-width="0.5"/>
<text x="239.2" y="282.6" font-family="Liberation Serif" font-weight="bold" font-size="8.8" fill="#111" stroke="#111" stroke-width="0.28"><tspan font-style="italic">x</tspan>-In<tspan font-size="5.8" dy="2.3">2</tspan><tspan dy="-2.3">STe</tspan></text>
<line x1="218.5" y1="291.5" x2="237.8" y2="291.5" stroke="#1a229a" stroke-width="1.6"/>
<circle cx="228" cy="291.5" r="1.9" fill="#1a229a" stroke="#0a0f60" stroke-width="0.5"/>
<text x="239.2" y="294.4" font-family="Liberation Serif" font-weight="bold" font-size="8.8" fill="#111" stroke="#111" stroke-width="0.28"><tspan font-style="italic">x</tspan>-In<tspan font-size="5.8" dy="2.3">2</tspan><tspan dy="-2.3">SSe</tspan></text>
<rect x="329.0" y="246.8" width="242.0" height="96.8" fill="#b4fdb1"/>
<polygon points="329.0,295.0 390.0,295.0 390.0,303.8 463.7,303.8 463.7,313.3 486.2,313.3 486.2,318.0 506.9,318.0 506.9,324.1 523.8,324.1 523.8,329.4 571.0,329.4 571.0,343.6 329.0,343.6" fill="#fcd4b6"/>
<polyline points="352.3,305.0 376.6,297.2 400.9,295.6 425.2,300.8 449.5,309.2 473.8,316.1 498.1,322.9 522.4,329.9 546.7,336.6" fill="none" stroke="#f52020" stroke-width="1.6" stroke-linejoin="round"/>
<circle cx="352.3" cy="305.0" r="2.1" fill="#f52020" stroke="#b00000" stroke-width="0.5"/><circle cx="351.7" cy="304.4" r="0.7" fill="#fff" opacity="0.45"/>
<circle cx="376.6" cy="297.2" r="2.1" fill="#f52020" stroke="#b00000" stroke-width="0.5"/><circle cx="376.0" cy="296.6" r="0.7" fill="#fff" opacity="0.45"/>
<circle cx="400.9" cy="295.6" r="2.1" fill="#f52020" stroke="#b00000" stroke-width="0.5"/><circle cx="400.3" cy="295.0" r="0.7" fill="#fff" opacity="0.45"/>
<circle cx="425.2" cy="300.8" r="2.1" fill="#f52020" stroke="#b00000" stroke-width="0.5"/><circle cx="424.6" cy="300.2" r="0.7" fill="#fff" opacity="0.45"/>
<circle cx="449.5" cy="309.2" r="2.1" fill="#f52020" stroke="#b00000" stroke-width="0.5"/><circle cx="448.9" cy="308.6" r="0.7" fill="#fff" opacity="0.45"/>
<circle cx="473.8" cy="316.1" r="2.1" fill="#f52020" stroke="#b00000" stroke-width="0.5"/><circle cx="473.2" cy="315.5" r="0.7" fill="#fff" opacity="0.45"/>
<circle cx="498.1" cy="322.9" r="2.1" fill="#f52020" stroke="#b00000" stroke-width="0.5"/><circle cx="497.5" cy="322.3" r="0.7" fill="#fff" opacity="0.45"/>
<circle cx="522.4" cy="329.9" r="2.1" fill="#f52020" stroke="#b00000" stroke-width="0.5"/><circle cx="521.8" cy="329.3" r="0.7" fill="#fff" opacity="0.45"/>
<circle cx="546.7" cy="336.6" r="2.1" fill="#f52020" stroke="#b00000" stroke-width="0.5"/><circle cx="546.1" cy="336.0" r="0.7" fill="#fff" opacity="0.45"/>
<polyline points="352.3,332.7 376.6,324.0 400.9,316.9 425.2,310.7 449.5,305.0 473.8,308.1 498.1,314.4 522.4,320.1 546.7,325.6" fill="none" stroke="#8a1ee6" stroke-width="1.6" stroke-linejoin="round"/>
<circle cx="352.3" cy="332.7" r="2.1" fill="#8a1ee6" stroke="#5a0aa0" stroke-width="0.5"/><circle cx="351.7" cy="332.1" r="0.7" fill="#fff" opacity="0.45"/>
<circle cx="376.6" cy="324.0" r="2.1" fill="#8a1ee6" stroke="#5a0aa0" stroke-width="0.5"/><circle cx="376.0" cy="323.4" r="0.7" fill="#fff" opacity="0.45"/>
<circle cx="400.9" cy="316.9" r="2.1" fill="#8a1ee6" stroke="#5a0aa0" stroke-width="0.5"/><circle cx="400.3" cy="316.3" r="0.7" fill="#fff" opacity="0.45"/>
<circle cx="425.2" cy="310.7" r="2.1" fill="#8a1ee6" stroke="#5a0aa0" stroke-width="0.5"/><circle cx="424.6" cy="310.1" r="0.7" fill="#fff" opacity="0.45"/>
<circle cx="449.5" cy="305.0" r="2.1" fill="#8a1ee6" stroke="#5a0aa0" stroke-width="0.5"/><circle cx="448.9" cy="304.4" r="0.7" fill="#fff" opacity="0.45"/>
<circle cx="473.8" cy="308.1" r="2.1" fill="#8a1ee6" stroke="#5a0aa0" stroke-width="0.5"/><circle cx="473.2" cy="307.5" r="0.7" fill="#fff" opacity="0.45"/>
<circle cx="498.1" cy="314.4" r="2.1" fill="#8a1ee6" stroke="#5a0aa0" stroke-width="0.5"/><circle cx="497.5" cy="313.8" r="0.7" fill="#fff" opacity="0.45"/>
<circle cx="522.4" cy="320.1" r="2.1" fill="#8a1ee6" stroke="#5a0aa0" stroke-width="0.5"/><circle cx="521.8" cy="319.5" r="0.7" fill="#fff" opacity="0.45"/>
<circle cx="546.7" cy="325.6" r="2.1" fill="#8a1ee6" stroke="#5a0aa0" stroke-width="0.5"/><circle cx="546.1" cy="325.0" r="0.7" fill="#fff" opacity="0.45"/>
<polyline points="352.3,263.5 376.6,270.1 400.9,276.5 425.2,283.8 449.5,290.1 473.8,296.9 498.1,303.7 522.4,310.4 546.7,316.9" fill="none" stroke="#1a229a" stroke-width="1.6" stroke-linejoin="round"/>
<circle cx="352.3" cy="263.5" r="2.1" fill="#1a229a" stroke="#0a0f60" stroke-width="0.5"/><circle cx="351.7" cy="262.9" r="0.7" fill="#fff" opacity="0.45"/>
<circle cx="376.6" cy="270.1" r="2.1" fill="#1a229a" stroke="#0a0f60" stroke-width="0.5"/><circle cx="376.0" cy="269.5" r="0.7" fill="#fff" opacity="0.45"/>
<circle cx="400.9" cy="276.5" r="2.1" fill="#1a229a" stroke="#0a0f60" stroke-width="0.5"/><circle cx="400.3" cy="275.9" r="0.7" fill="#fff" opacity="0.45"/>
<circle cx="425.2" cy="283.8" r="2.1" fill="#1a229a" stroke="#0a0f60" stroke-width="0.5"/><circle cx="424.6" cy="283.2" r="0.7" fill="#fff" opacity="0.45"/>
<circle cx="449.5" cy="290.1" r="2.1" fill="#1a229a" stroke="#0a0f60" stroke-width="0.5"/><circle cx="448.9" cy="289.5" r="0.7" fill="#fff" opacity="0.45"/>
<circle cx="473.8" cy="296.9" r="2.1" fill="#1a229a" stroke="#0a0f60" stroke-width="0.5"/><circle cx="473.2" cy="296.3" r="0.7" fill="#fff" opacity="0.45"/>
<circle cx="498.1" cy="303.7" r="2.1" fill="#1a229a" stroke="#0a0f60" stroke-width="0.5"/><circle cx="497.5" cy="303.1" r="0.7" fill="#fff" opacity="0.45"/>
<circle cx="522.4" cy="310.4" r="2.1" fill="#1a229a" stroke="#0a0f60" stroke-width="0.5"/><circle cx="521.8" cy="309.8" r="0.7" fill="#fff" opacity="0.45"/>
<circle cx="546.7" cy="316.9" r="2.1" fill="#1a229a" stroke="#0a0f60" stroke-width="0.5"/><circle cx="546.1" cy="316.3" r="0.7" fill="#fff" opacity="0.45"/>
<rect x="329.0" y="246.8" width="242.0" height="96.8" fill="none" stroke="#444" stroke-width="1.3"/>
<line x1="352.3" y1="343.6" x2="352.3" y2="340.6" stroke="#444" stroke-width="1"/>
<line x1="376.6" y1="343.6" x2="376.6" y2="341.6" stroke="#444" stroke-width="1"/>
<line x1="400.9" y1="343.6" x2="400.9" y2="340.6" stroke="#444" stroke-width="1"/>
<line x1="425.2" y1="343.6" x2="425.2" y2="341.6" stroke="#444" stroke-width="1"/>
<line x1="449.5" y1="343.6" x2="449.5" y2="340.6" stroke="#444" stroke-width="1"/>
<line x1="473.8" y1="343.6" x2="473.8" y2="341.6" stroke="#444" stroke-width="1"/>
<line x1="498.1" y1="343.6" x2="498.1" y2="340.6" stroke="#444" stroke-width="1"/>
<line x1="522.4" y1="343.6" x2="522.4" y2="341.6" stroke="#444" stroke-width="1"/>
<line x1="546.7" y1="343.6" x2="546.7" y2="340.6" stroke="#444" stroke-width="1"/>
<line x1="329.0" y1="259.6" x2="332.0" y2="259.6" stroke="#444" stroke-width="1"/>
<line x1="329.0" y1="283.7" x2="332.0" y2="283.7" stroke="#444" stroke-width="1"/>
<line x1="329.0" y1="307.7" x2="332.0" y2="307.7" stroke="#444" stroke-width="1"/>
<line x1="329.0" y1="331.8" x2="332.0" y2="331.8" stroke="#444" stroke-width="1"/>
<g font-family="Liberation Serif" font-weight="bold" font-size="10.5" fill="#111" text-anchor="end" stroke="#111" stroke-width="0.28">
<text x="326.0" y="263.2">1.8</text>
<text x="326.0" y="287.3">1.6</text>
<text x="326.0" y="311.3">1.4</text>
<text x="326.0" y="335.4">1.2</text>
</g>
<g font-family="Liberation Serif" font-weight="bold" font-size="10.5" fill="#111" text-anchor="middle" stroke="#111" stroke-width="0.28">
<text x="352.3" y="356">-4</text>
<text x="400.9" y="356">-2</text>
<text x="449.5" y="356">0</text>
<text x="498.1" y="356">2</text>
<text x="546.7" y="356">4</text>
</g>
<text x="449.6" y="374.4" font-family="Liberation Serif" font-weight="bold" font-size="12.4" fill="#111" text-anchor="middle" stroke="#111" stroke-width="0.28">Strain (%)</text>
<text transform="translate(309 295.2) rotate(-90)" font-family="Liberation Serif" font-weight="bold" font-size="10.6" fill="#111" text-anchor="middle" stroke="#111" stroke-width="0.28">Energy (eV)</text>
<text x="334" y="257.8" font-family="Liberation Serif" font-weight="bold" font-size="10.45" fill="#0e7a14" stroke="#0e7a14" stroke-width="0.28">Indirect</text>
<text x="333" y="341.6" font-family="Liberation Serif" font-weight="bold" font-size="10.3" fill="#a8300c" stroke="#a8300c" stroke-width="0.28">Direct</text>
<line x1="512.3" y1="254.1" x2="531.5" y2="254.1" stroke="#f52020" stroke-width="1.6"/>
<circle cx="522" cy="254.1" r="1.9" fill="#f52020" stroke="#b00000" stroke-width="0.5"/>
<text x="533" y="257.0" font-family="Liberation Serif" font-weight="bold" font-size="8.8" fill="#111" stroke="#111" stroke-width="0.28"><tspan font-style="italic">y</tspan>-In<tspan font-size="5.8" dy="2.3">2</tspan><tspan dy="-2.3">SeTe</tspan></text>
<line x1="512.3" y1="266.9" x2="531.5" y2="266.9" stroke="#8a1ee6" stroke-width="1.6"/>
<circle cx="522" cy="266.9" r="1.9" fill="#8a1ee6" stroke="#5a0aa0" stroke-width="0.5"/>
<text x="533" y="269.8" font-family="Liberation Serif" font-weight="bold" font-size="8.8" fill="#111" stroke="#111" stroke-width="0.28"><tspan font-style="italic">y</tspan>-In<tspan font-size="5.8" dy="2.3">2</tspan><tspan dy="-2.3">STe</tspan></text>
<line x1="512.3" y1="279.1" x2="531.5" y2="279.1" stroke="#1a229a" stroke-width="1.6"/>
<circle cx="522" cy="279.1" r="1.9" fill="#1a229a" stroke="#0a0f60" stroke-width="0.5"/>
<text x="533" y="282.0" font-family="Liberation Serif" font-weight="bold" font-size="8.8" fill="#111" stroke="#111" stroke-width="0.28"><tspan font-style="italic">y</tspan>-In<tspan font-size="5.8" dy="2.3">2</tspan><tspan dy="-2.3">SSe</tspan></text>
</svg></body></html>
